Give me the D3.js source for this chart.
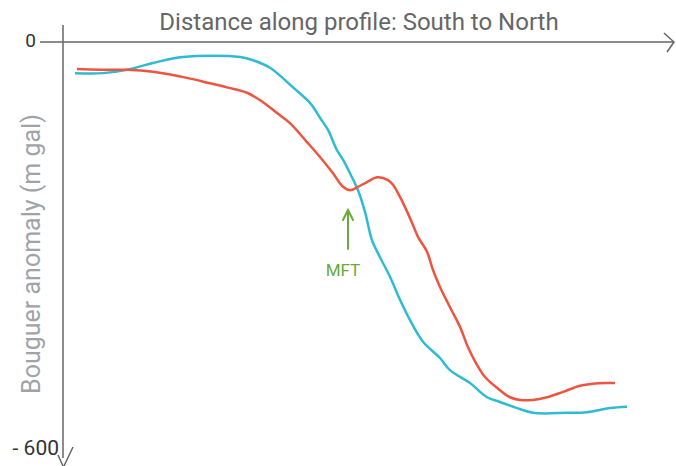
<!DOCTYPE html>
<html><head><meta charset="utf-8">
<script src="https://cdn.jsdelivr.net/npm/d3@7"></script>
<style>body{margin:0;background:#fff}svg{display:block}</style>
</head><body>
<svg id="c" width="676" height="466"></svg>
<script>
// distance along profile (arbitrary units), Bouguer anomaly (mGal)
const redX = [14,37,64,90,124,147,164,184,200,214,227,244,257,270,280,287,295,304,314,325,330,337,342,349,355,364,370,377,387,397,405,414,422,434,447,457,470,484,500,517,530,544,552];
const redY = [-40,-41,-41,-44,-53,-61,-67,-75,-89,-105,-120,-148,-170,-194,-214,-219,-214,-207,-200,-204,-211,-229,-244,-267,-288,-310,-337,-362,-392,-421,-451,-477,-495,-511,-525,-529,-529,-525,-517,-508,-505,-504,-504];
const cyanX = [12,40,64,90,120,177,190,207,230,247,257,265,274,280,287,295,302,309,317,327,337,347,360,377,387,407,424,437,454,470,504,524,547,564];
const cyanY = [-46,-46,-41,-31,-22,-22,-27,-38,-67,-90,-112,-130,-160,-174,-194,-219,-251,-293,-318,-347,-381,-411,-443,-467,-485,-504,-525,-532,-541,-548,-548,-547,-541,-539];
const yTicks = [0, -600];
const yTickLabels = ["0", "- 600"];
const title = "Distance along profile: South to North";
const yTitle = "Bouguer anomaly (m gal)";
const annotation = {label: "MFT", x: 285};

const svg = d3.select("#c");
const x = d3.scaleLinear().domain([0, 600]).range([63, 663]);
const y = d3.scaleLinear().domain([0, -600]).range([42, 448]);
const axisCol = "#666";

// axes
svg.append("line").attr("x1", 40).attr("x2", 673).attr("y1", y(0)).attr("y2", y(0))
  .attr("stroke", axisCol).attr("stroke-width", 1.5);
svg.append("path").attr("d", "M664,33 L674,42 L667,52").attr("fill", "none")
  .attr("stroke", axisCol).attr("stroke-width", 1.5);
svg.append("line").attr("x1", x(0)).attr("x2", x(0)).attr("y1", 25).attr("y2", 458)
  .attr("stroke", axisCol).attr("stroke-width", 1.5);
svg.append("path").attr("d", "M58,455 L63,466 M73,447 L64,466").attr("fill", "none")
  .attr("stroke", axisCol).attr("stroke-width", 1.5);

// tick labels
svg.append("text").attr("x", 36).attr("y", y(yTicks[0]) + 5).attr("text-anchor", "end")
  .attr("font-family", "Roboto, sans-serif").attr("font-size", 19).attr("fill", "#333")
  .text(yTickLabels[0]);
svg.append("text").attr("x", 59).attr("y", y(yTicks[1]) + 7).attr("text-anchor", "end")
  .attr("font-family", "Roboto, sans-serif").attr("font-size", 21).attr("fill", "#333")
  .text(yTickLabels[1]);

// titles
svg.append("text").attr("x", 359).attr("y", 30).attr("text-anchor", "middle")
  .attr("font-family", "Roboto, sans-serif").attr("font-size", 24).attr("fill", "#666")
  .text(title);
svg.append("text").attr("transform", "translate(40,254) rotate(-90)").attr("text-anchor", "middle")
  .attr("font-family", "Roboto, sans-serif").attr("font-size", 25).attr("fill", "#a0a4a8")
  .text(yTitle);

// curves
const line = d3.line().x(d => x(d[0])).y(d => y(d[1])).curve(d3.curveCatmullRom);
svg.append("path").datum(cyanX.map((v, i) => [v, cyanY[i]])).attr("d", line)
  .attr("fill", "none").attr("stroke", "#2fbcd2").attr("stroke-width", 2.5);
svg.append("path").datum(redX.map((v, i) => [v, redY[i]])).attr("d", line)
  .attr("fill", "none").attr("stroke", "#ee5540").attr("stroke-width", 2.5);

// annotation
const green = "#6aaa3c";
const ax = x(annotation.x);
svg.append("path").attr("d", `M${ax},249 L${ax},211 M${ax-5},220 L${ax},210 L${ax+5},220`)
  .attr("fill", "none").attr("stroke", green).attr("stroke-width", 2).attr("stroke-linecap", "round");
svg.append("text").attr("x", ax - 5).attr("y", 276).attr("text-anchor", "middle")
  .attr("font-family", "Roboto, sans-serif").attr("font-size", 17).attr("fill", green)
  .text(annotation.label);
</script>
</body></html>
